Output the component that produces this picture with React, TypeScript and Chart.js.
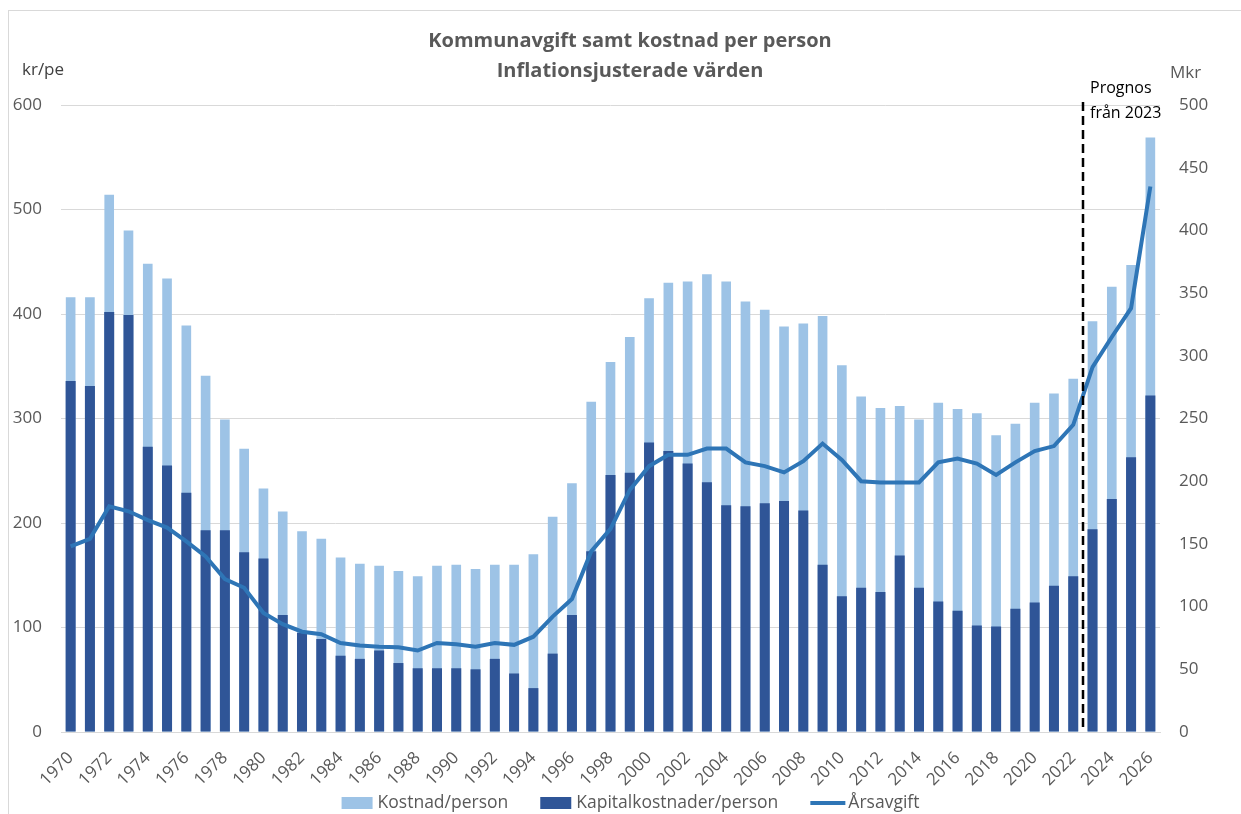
import React, { useEffect, useRef } from 'react';
import { Chart, registerables } from 'chart.js';

Chart.register(...registerables);

const years = [
  '1970', '1971', '1972', '1973', '1974', '1975', '1976', '1977', '1978', '1979',
  '1980', '1981', '1982', '1983', '1984', '1985', '1986', '1987', '1988', '1989',
  '1990', '1991', '1992', '1993', '1994', '1995', '1996', '1997', '1998', '1999',
  '2000', '2001', '2002', '2003', '2004', '2005', '2006', '2007', '2008', '2009',
  '2010', '2011', '2012', '2013', '2014', '2015', '2016', '2017', '2018', '2019',
  '2020', '2021', '2022', '2023', '2024', '2025', '2026',
];

const kostnadPerson = [
  416, 416, 514, 480, 448, 434, 389, 341, 299, 271,
  233, 211, 192, 185, 167, 161, 159, 154, 149, 159,
  160, 156, 160, 160, 170, 206, 238, 316, 354, 378,
  415, 430, 431, 438, 431, 412, 404, 388, 391, 398,
  351, 321, 310, 312, 299, 315, 309, 305, 284, 295,
  315, 324, 338, 393, 426, 447, 569,
];

const kapitalPerson = [
  336, 331, 402, 399, 273, 255, 229, 193, 193, 172,
  166, 112, 95, 89, 73, 70, 78, 66, 61, 61,
  61, 60, 70, 56, 42, 75, 112, 173, 246, 248,
  277, 269, 257, 239, 217, 216, 219, 221, 212, 160,
  130, 138, 134, 169, 138, 125, 116, 102, 101, 118,
  124, 140, 149, 194, 223, 263, 322,
];

const arsavgift = [
  148, 154, 180, 176, 169, 163, 152, 140, 122, 115,
  95, 86, 80, 78, 71, 69, 68, 67.5, 65, 71,
  70, 68, 71, 69.5, 76, 92, 106, 144, 162, 193,
  212, 221, 221, 226, 226, 215, 212, 207, 216, 230,
  217, 200, 199, 199, 199, 215, 218, 214, 205, 215,
  224, 228, 245, 291, 315, 338, 435,
];

const titleLines = ['Kommunavgift samt kostnad per person', 'Inflationsjusterade värden'];
const leftUnit = 'kr/pe';
const rightUnit = 'Mkr';
const forecastLines = ['Prognos', 'från 2023'];
const forecastBefore = '2022';
const forecastAfter = '2023';
const seriesNames = ['Kostnad/person', 'Kapitalkostnader/person', 'Årsavgift'];

const FONT = '"Open Sans", sans-serif';
const GRAY = '#595959';
const LIGHT = '#9dc3e6';
const DARK = '#2f5597';
const LINE = '#2e75b6';
const GRID = '#d9d9d9';

const W = 1232;
const H = 803;

const overlayPlugin = {
  id: 'overlay',
  afterDatasetsDraw(chart: any) {
    const ctx = chart.ctx;
    const x = chart.scales.x;
    const area = chart.chartArea;
    const i1 = years.indexOf(forecastBefore);
    const i2 = years.indexOf(forecastAfter);
    const px = Math.round((x.getPixelForValue(i1) + x.getPixelForValue(i2)) / 2);
    ctx.save();
    ctx.strokeStyle = '#000000';
    ctx.lineWidth = 2.5;
    ctx.setLineDash([9, 5]);
    ctx.beginPath();
    ctx.moveTo(px, area.top - 3);
    ctx.lineTo(px, area.bottom);
    ctx.stroke();
    ctx.restore();
  },
  afterDraw(chart: any) {
    const ctx = chart.ctx;
    ctx.save();
    // title
    ctx.fillStyle = GRAY;
    ctx.font = `bold 20px ${FONT}`;
    ctx.textAlign = 'center';
    ctx.textBaseline = 'middle';
    ctx.fillText(titleLines[0], 621, 30);
    ctx.fillText(titleLines[1], 621, 60);

    // units
    ctx.textAlign = 'left';
    ctx.font = `17px ${FONT}`;
    ctx.fillStyle = '#404040';
    ctx.fillText(leftUnit, 13, 59);
    ctx.fillStyle = GRAY;
    ctx.fillText(rightUnit, 1161, 62);

    // forecast label
    ctx.fillStyle = '#000000';
    ctx.font = `16px ${FONT}`;
    ctx.fillText(forecastLines[0], 1081, 77);
    ctx.fillText(forecastLines[1], 1081, 102);

    // legend
    ctx.font = `17.5px ${FONT}`;
    const boxW = 31;
    const boxH = 12;
    const lineW = 35;
    const gapText = 5;
    const gapItem = 32;
    const w0 = ctx.measureText(seriesNames[0]).width;
    const w1 = ctx.measureText(seriesNames[1]).width;
    const w2 = ctx.measureText(seriesNames[2]).width;
    const total = boxW + gapText + w0 + gapItem + boxW + gapText + w1 + gapItem + lineW + 3 + w2;
    let lx = 621.5 - total / 2;
    const ly = 792;
    ctx.fillStyle = LIGHT;
    ctx.fillRect(lx, ly - boxH / 2, boxW, boxH);
    lx += boxW + gapText;
    ctx.fillStyle = GRAY;
    ctx.fillText(seriesNames[0], lx, ly);
    lx += w0 + gapItem;
    ctx.fillStyle = DARK;
    ctx.fillRect(lx, ly - boxH / 2, boxW, boxH);
    lx += boxW + gapText;
    ctx.fillStyle = GRAY;
    ctx.fillText(seriesNames[1], lx, ly);
    lx += w1 + gapItem;
    ctx.strokeStyle = LINE;
    ctx.lineWidth = 4;
    ctx.beginPath();
    ctx.moveTo(lx, ly);
    ctx.lineTo(lx + lineW, ly);
    ctx.stroke();
    lx += lineW + 3;
    ctx.fillStyle = GRAY;
    ctx.fillText(seriesNames[2], lx, ly);
    ctx.restore();
  },
};

export default function App() {
  const canvasRef = useRef<HTMLCanvasElement | null>(null);

  useEffect(() => {
    const canvas = canvasRef.current;
    if (!canvas) return;
    const chart = new Chart(canvas, {
      type: 'bar',
      data: {
        labels: years,
        datasets: [
          {
            type: 'line',
            label: seriesNames[2],
            data: arsavgift,
            borderColor: LINE,
            backgroundColor: LINE,
            borderWidth: 4,
            pointRadius: 0,
            tension: 0,
            yAxisID: 'y1',
            order: 0,
          } as any,
          {
            type: 'bar',
            label: seriesNames[1],
            data: kapitalPerson,
            backgroundColor: DARK,
            barPercentage: 0.52,
            categoryPercentage: 1,
            grouped: false,
            yAxisID: 'y',
            order: 1,
          },
          {
            type: 'bar',
            label: seriesNames[0],
            data: kostnadPerson,
            backgroundColor: LIGHT,
            barPercentage: 0.5,
            categoryPercentage: 1,
            grouped: false,
            yAxisID: 'y',
            order: 2,
          },
        ],
      },
      options: {
        responsive: false,
        animation: false,
        devicePixelRatio: 1,
        layout: { padding: { top: 94, bottom: 0, left: 0, right: 0 } },
        plugins: {
          legend: { display: false },
          title: { display: false },
          tooltip: { enabled: false },
        },
        scales: {
          x: {
            grid: { display: false },
            border: { color: GRID, width: 1 },
            ticks: {
              autoSkip: false,
              maxRotation: 45,
              minRotation: 45,
              padding: 8,
              color: GRAY,
              font: { family: FONT, size: 17 },
              callback: (_v: any, i: number) => (i % 2 === 0 ? years[i] : ''),
            },
            afterFit: (s: any) => {
              s.height = H - 721;
            },
          },
          y: {
            position: 'left',
            min: 0,
            max: 600,
            ticks: { stepSize: 100, padding: 19, color: GRAY, font: { family: FONT, size: 17 } },
            grid: { color: GRID, drawTicks: false, lineWidth: 1 },
            border: { display: false },
            afterFit: (s: any) => {
              s.width = 52;
            },
          },
          y1: {
            position: 'right',
            min: 0,
            max: 500,
            ticks: { stepSize: 50, padding: 19, color: GRAY, font: { family: FONT, size: 17 } },
            grid: { display: false, drawTicks: false },
            border: { display: false },
            afterFit: (s: any) => {
              s.width = W - 1151;
            },
          },
        },
      } as any,
      plugins: [overlayPlugin],
    });
    return () => chart.destroy();
  }, []);

  return (
    <div
      style={{
        position: 'fixed',
        left: 8,
        top: 10,
        width: W + 1,
        height: H + 1,
        borderTop: `1px solid ${GRID}`,
        borderLeft: `1px solid ${GRID}`,
        background: '#ffffff',
      }}
    >
      <canvas ref={canvasRef} width={W} height={H} style={{ display: 'block', width: W, height: H }} />
    </div>
  );
}
